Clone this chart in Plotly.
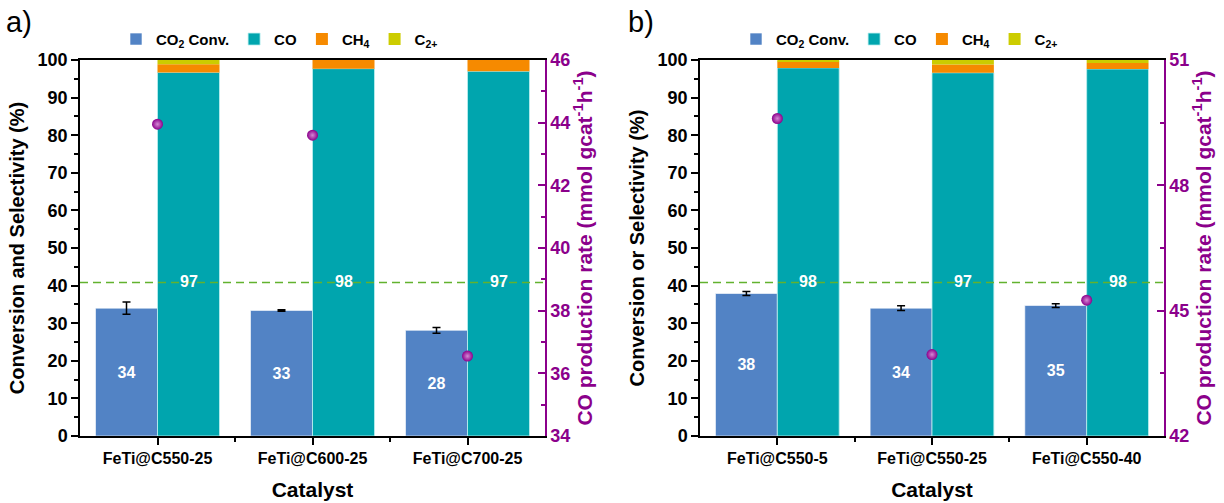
import plotly.graph_objects as go
import numpy as np

# ---------------- data ----------------
series_names = ["CO<sub>2</sub> Conv.", "CO", "CH<sub>4</sub>", "C<sub>2+</sub>"]

cats_a = ["FeTi@C550-25", "FeTi@C600-25", "FeTi@C700-25"]
conv_a = [34.0, 33.4, 28.1]
conv_err_a = [1.65, 0.2, 0.75]
co_a = [96.7, 97.7, 97.0]
ch4_a = [2.2, 2.3, 3.0]
c2_a = [1.1, 0.0, 0.0]
rate_a = [43.95, 43.6, 36.55]

cats_b = ["FeTi@C550-5", "FeTi@C550-25", "FeTi@C550-40"]
conv_b = [37.9, 34.0, 34.7]
conv_err_b = [0.5, 0.65, 0.5]
co_b = [97.9, 96.6, 97.6]
ch4_b = [1.7, 2.2, 1.6]
c2_b = [0.4, 1.2, 0.8]
rate_b = [49.6, 43.95, 45.25]

equilibrium_conv = 40.8
co_label_level = 41

left_ticks = list(range(0, 101, 10))
right_range_a = [34, 46]
right_range_b = [42, 51]

# ---------------- style ----------------
FONT = "Liberation Sans, Arial, sans-serif"
BLUE = "#5283C5"
TEAL = "#00A5AE"
ORANGE = "#F68A00"
YELLOW = "#CCCC00"
PURPLE = "#8B008B"
GREEN = "#62B22E"
W, H = 1224, 503

fig = go.Figure()


def add_panel(cats, conv, err, co, ch4, c2, rate, xa, ya, ya2, legend):
    idx = list(range(len(cats)))
    co = np.array(co)
    ch4 = np.array(ch4)
    c2 = np.array(c2)
    fig.add_trace(go.Bar(
        x=idx, y=conv, name=series_names[0], offsetgroup="conv",
        marker=dict(color=BLUE, line=dict(color="rgba(255,255,255,0.6)", width=1)),
        error_y=dict(type="data", array=err, color="black", thickness=1.5, width=4),
        texttemplate="%{y:.0f}", textposition="inside", insidetextanchor="middle",
        textangle=0, constraintext="none",
        textfont=dict(color="white", size=16, family=FONT, weight="bold"),
        xaxis=xa, yaxis=ya, legend=legend, hoverinfo="skip"))
    fig.add_trace(go.Bar(
        x=idx, y=co, name=series_names[1], offsetgroup="sel",
        marker=dict(color=TEAL, line=dict(color="rgba(190,240,240,0.8)", width=1)),
        xaxis=xa, yaxis=ya, legend=legend, hoverinfo="skip"))
    fig.add_trace(go.Bar(
        x=idx, y=ch4, base=co, name=series_names[2], offsetgroup="sel",
        marker=dict(color=ORANGE, line=dict(width=0)),
        xaxis=xa, yaxis=ya, legend=legend, hoverinfo="skip"))
    fig.add_trace(go.Bar(
        x=idx, y=c2, base=co + ch4, name=series_names[3], offsetgroup="sel",
        marker=dict(color=YELLOW, line=dict(width=0)),
        xaxis=xa, yaxis=ya, legend=legend, hoverinfo="skip"))
    fig.add_trace(go.Scatter(
        x=idx, y=rate, mode="markers", showlegend=False,
        marker=dict(size=11, color=PURPLE,
                    gradient=dict(type="radial", color="#D488D4"),
                    line=dict(width=0)),
        xaxis=xa, yaxis=ya2, hoverinfo="skip"))
    # CO selectivity labels
    for i, v in zip(idx, co):
        fig.add_annotation(x=i, y=co_label_level, xref=xa, yref=ya, xshift=31,
                           text=f"{round(v)}", showarrow=False,
                           font=dict(color="white", size=16, family=FONT, weight="bold"))
    # equilibrium line
    fig.add_shape(type="line", xref=f"{xa} domain", yref=ya, x0=0, x1=1,
                  y0=equilibrium_conv, y1=equilibrium_conv, layer="above",
                  line=dict(color=GREEN, width=1.5, dash="8px,5px"))


add_panel(cats_a, conv_a, conv_err_a, co_a, ch4_a, c2_a, rate_a, "x", "y", "y2", "legend")
add_panel(cats_b, conv_b, conv_err_b, co_b, ch4_b, c2_b, rate_b, "x2", "y3", "y4", "legend2")

tickfont = dict(family=FONT, size=18, color="black", weight="bold")
titlefont = dict(family=FONT, size=20, color="black", weight="bold")


def xaxis_cfg(cats, domain):
    idx = list(range(len(cats)))
    return dict(domain=domain, range=[-0.5, len(cats) - 0.5],
                tickvals=idx, ticktext=cats,
                tickfont=dict(family=FONT, size=16, color="black", weight="bold"),
                ticks="outside", ticklen=7, tickwidth=1.5, tickcolor="black",
                minor=dict(tickvals=[i + 0.5 for i in idx[:-1]], ticks="outside",
                           ticklen=4, tickwidth=1.5, tickcolor="black"),
                showline=True, linecolor="black", linewidth=1.5, mirror=True,
                showgrid=False, zeroline=False, automargin=False,
                title=dict(text="Catalyst",
                           font=dict(family=FONT, size=21, color="black", weight="bold"),
                           standoff=16),
                fixedrange=True)


def yleft_cfg(title, anchor):
    return dict(domain=[0, 1], anchor=anchor, range=[0, 100], tickvals=left_ticks,
                tickfont=tickfont, ticks="outside", ticklen=7, tickwidth=1.5,
                tickcolor="black",
                minor=dict(dtick=5, ticks="outside", ticklen=4, tickwidth=1.5,
                           tickcolor="black"),
                showline=True, linecolor="black", linewidth=1.5,
                showgrid=False, zeroline=False, automargin=False,
                title=dict(text=title, font=titlefont, standoff=8),
                fixedrange=True)


def yright_cfg(rng, dtick, overlay, anchor):
    return dict(overlaying=overlay, anchor=anchor, side="right", range=rng, dtick=dtick,
                tick0=rng[0],
                tickfont=dict(family=FONT, size=18, color=PURPLE, weight="bold"),
                ticks="inside", ticklen=7, tickwidth=1.5, tickcolor=PURPLE,
                minor=dict(dtick=dtick / 2, ticks="inside", ticklen=4, tickwidth=1.5,
                           tickcolor=PURPLE),
                showline=True, linecolor=PURPLE, linewidth=1.5,
                showgrid=False, zeroline=False, automargin=False,
                title=dict(text="CO production rate (mmol gcat<sup>-1</sup>h<sup>-1</sup>)",
                           font=dict(family=FONT, size=21, color=PURPLE, weight="bold"),
                           standoff=6),
                fixedrange=True)


dom_a = [80 / W, 545 / W]
dom_b = [700 / W, 1164 / W]

legend_cfg = dict(orientation="h", xanchor="left", yanchor="middle", y=1.055,
                  font=dict(family=FONT, size=15, color="black", weight="bold"),
                  bgcolor="rgba(0,0,0,0)", itemclick=False, itemdoubleclick=False,
                  tracegroupgap=0)

fig.update_layout(
    width=W, height=H,
    margin=dict(l=0, r=0, t=60, b=67, autoexpand=False),
    paper_bgcolor="white", plot_bgcolor="white",
    barmode="group", bargap=0.2, bargroupgap=0,
    font=dict(family=FONT),
    xaxis=xaxis_cfg(cats_a, dom_a) | dict(anchor="y"),
    xaxis2=xaxis_cfg(cats_b, dom_b) | dict(anchor="y3"),
    yaxis=yleft_cfg("Conversion and Selectivity (%)", "x"),
    yaxis2=yright_cfg(right_range_a, 2, "y", "x"),
    yaxis3=yleft_cfg("Conversion or Selectivity (%)", "x2"),
    yaxis4=yright_cfg(right_range_b, 3, "y3", "x2"),
    legend=legend_cfg | dict(x=116 / W),
    legend2=legend_cfg | dict(x=736 / W),
    showlegend=True,
)

fig.add_annotation(xref="paper", yref="paper", x=4 / W, y=1.10, xanchor="left",
                   yanchor="middle", text="a)", showarrow=False,
                   font=dict(family=FONT, size=29, color="black"))
fig.add_annotation(xref="paper", yref="paper", x=626 / W, y=1.10, xanchor="left",
                   yanchor="middle", text="b)", showarrow=False,
                   font=dict(family=FONT, size=29, color="black"))

fig.write_html("out.html", config={"displayModeBar": False},
               post_script="document.body.style.margin='0px';")
